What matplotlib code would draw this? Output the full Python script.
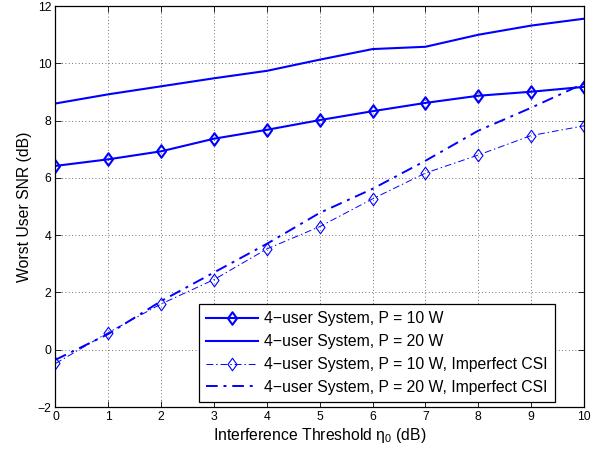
import matplotlib
matplotlib.use("Agg")
import matplotlib.pyplot as plt
from matplotlib.path import Path

plt.rcParams['font.family'] = ['Liberation Sans', 'DejaVu Sans']

eta = [0, 1, 2, 3, 4, 5, 6, 7, 8, 9, 10]
p10 = [6.42, 6.65, 6.93, 7.37, 7.68, 8.02, 8.33, 8.62, 8.87, 9.01, 9.18]
p20 = [8.6, 8.92, 9.2, 9.48, 9.74, 10.13, 10.5, 10.58, 11.0, 11.32, 11.56]
p10_ic = [-0.48, 0.6, 1.6, 2.45, 3.52, 4.3, 5.27, 6.17, 6.8, 7.48, 7.82]
p20_ic = [-0.35, 0.55, 1.7, 2.7, 3.7, 4.78, 5.62, 6.6, 7.65, 8.45, 9.3]

labels = ['4\u2212user System, P = 10 W',
          '4\u2212user System, P = 20 W',
          '4\u2212user System, P = 10 W, Imperfect CSI',
          '4\u2212user System, P = 20 W, Imperfect CSI']

diamond = Path([(0, 1), (0.72, 0), (0, -1), (-0.72, 0), (0, 1)],
               [Path.MOVETO, Path.LINETO, Path.LINETO, Path.LINETO, Path.CLOSEPOLY])

fig = plt.figure(figsize=(6.05, 4.53), dpi=100)
ax = fig.add_axes([0.0917, 0.1015, 0.8736, 0.885])

blue = '#0000ff'
ax.plot(eta, p10, color=blue, lw=1.5, marker=diamond, ms=9, mfc='none', mew=1.5, label=labels[0])
ax.plot(eta, p20, color=blue, lw=1.5, label=labels[1])
ax.plot(eta, p10_ic, color=blue, lw=0.7, ls=(0, (7, 3, 1.5, 3)), marker=diamond, ms=9, mfc='none',
        mew=0.8, label=labels[2])
ax.plot(eta, p20_ic, color=blue, lw=1.4, ls=(0, (6, 3, 1.5, 3)), label=labels[3])

ax.set_xlim(0, 10)
ax.set_ylim(-2, 12)
ax.set_xticks(range(0, 11))
ax.set_yticks(range(-2, 13, 2))
ax.set_yticklabels(['\u22122', '0', '2', '4', '6', '8', '10', '12'])
ax.grid(True, ls=(0, (1, 3)), color='#444444', lw=0.6)
ax.tick_params(direction='in', labelsize=8.8, top=True, right=True, length=4, width=0.6, pad=3)
ax.set_xlabel('Interference Threshold $\\mathregular{\\eta_0}$ (dB)', fontsize=11.3, labelpad=2)
ax.set_ylabel('Worst User SNR (dB)', fontsize=11.3, labelpad=4)
for s in ax.spines.values():
    s.set_linewidth(0.9)

leg = ax.legend(loc='lower right', bbox_to_anchor=(0.945, 0.0125), borderaxespad=0,
                prop={'size': 11.3}, frameon=True,
                fancybox=False, edgecolor='black', framealpha=1, handlelength=3.3, handletextpad=0.4,
                borderpad=0.45, labelspacing=0.5)
leg.get_frame().set_linewidth(0.9)

fig.savefig('out.png', dpi=100)
